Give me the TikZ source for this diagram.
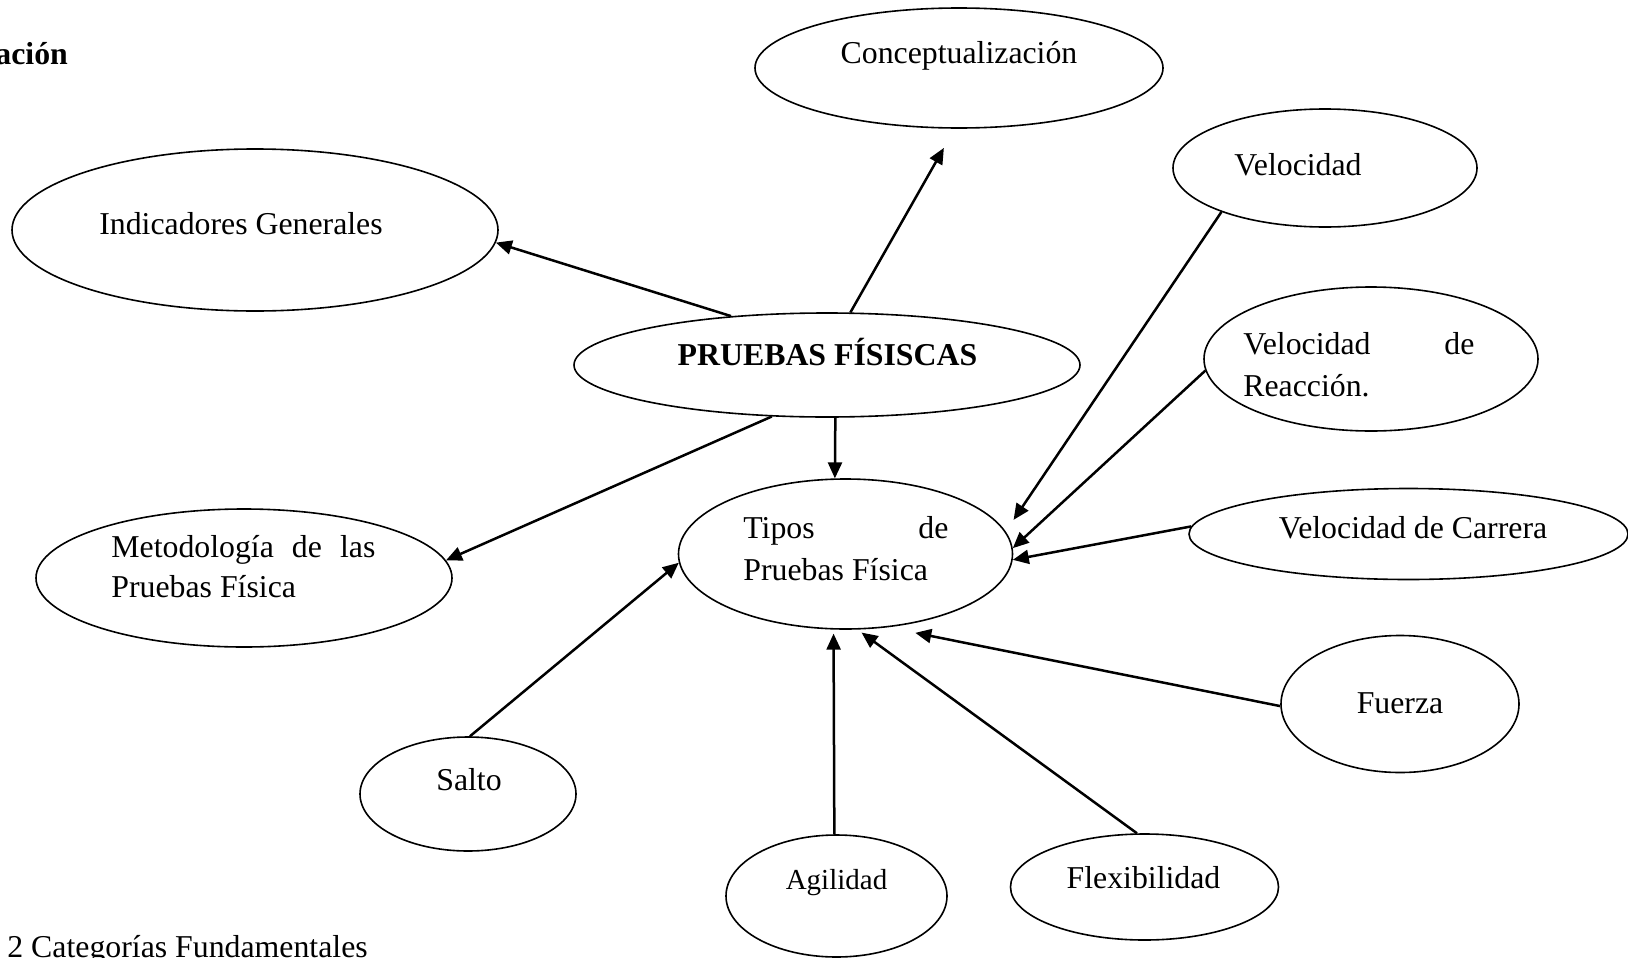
\documentclass[tikz,border=0pt]{standalone}
\usepackage{fontspec}
\setmainfont{Liberation Serif}
\usetikzlibrary{shapes.geometric,arrows.meta}
\begin{document}
\begin{tikzpicture}[x=0.5pt,y=-0.5pt,
  ell/.style 2 args={draw, ellipse, line width=0.8pt, inner sep=0pt,
                     minimum width=#1pt, minimum height=#2pt},
  lbl/.style={font=\fontsize{15.9}{19}\selectfont, inner sep=0pt, anchor=base},
  lblw/.style={lbl, anchor=base west},
  link/.style={-{Triangle[length=8pt,width=7pt]}, line width=1.25pt}]
\clip (0,0) rectangle (1628,958);
\fill[white] (0,0) rectangle (1628,958);

% ellipses
\node[ell={204}{60}]   (co) at (959,68)    {};
\node[ell={152}{59}]   (ve) at (1325,168)  {};
\node[ell={243}{81}]   (in) at (255,230)   {};
\node[ell={253}{52}]   (pr) at (827,365)   {};
\node[ell={167}{72}]   (vr) at (1371,359)  {};
\node[ell={167}{75}]   (ti) at (845.5,554) {};
\node[ell={208}{69}]   (me) at (244,578)   {};
\node[ell={219.5}{45.5}] (vc) at (1408.5,534) {};
\node[ell={119}{68.5}] (fu) at (1400,704)  {};
\node[ell={108}{57}]   (sa) at (468,794)   {};
\node[ell={110.5}{61}] (ag) at (836.5,896) {};
\node[ell={134}{53}]   (fl) at (1144.5,887) {};

% labels
\node[lblw, font=\fontsize{15.9}{19}\selectfont\bfseries] (hd) at (-5,64) {ación};
\node[lbl] (co-t) at (959,63)    {Conceptualización};
\node[lbl] (ve-t) at (1298,175)  {Velocidad};
\node[lbl] (in-t) at (241,234)   {Indicadores Generales};
\node[lbl, font=\fontsize{15.9}{19}\selectfont\bfseries] (pr-t) at (827.5,365) {PRUEBAS FÍSISCAS};
\node[lblw] (vr-a) at (1243,354) {\hbox to 115.5pt{Velocidad\hfill de}};
\node[lblw] (vr-b) at (1243,396) {Reacción.};
\node[lblw] (ti-a) at (743,538)  {\hbox to 102.5pt{Tipos\hfill de}};
\node[lblw] (ti-b) at (743,580)  {Pruebas Física};
\node[lblw] (me-a) at (111,557)  {\hbox to 132pt{Metodología\hfill de\hfill las}};
\node[lblw] (me-b) at (111,597.5) {Pruebas Física};
\node[lbl] (vc-t) at (1413,538)  {Velocidad de Carrera};
\node[lbl] (fu-t) at (1400,713)  {Fuerza};
\node[lbl] (sa-t) at (469,790.5) {Salto};
\node[lbl, font=\fontsize{14.5}{17}\selectfont] (ag-t) at (836.5,889) {Agilidad};
\node[lbl] (fl-t) at (1143.5,888) {Flexibilidad};
\node[lblw] (ft) at (7,957) {2 Categorías Fundamentales};

% connectors
\draw[link, shorten >=11pt] (pr.66)  -- (co.266);
\draw[link] (pr.153) -- (in.357);
\draw[link] (pr.279) -- (ti.98);
\draw[link] (pr.223) -- (me.5);
\draw[link, shorten >=7pt] (ve.203) -- (ti.8);
\draw[link] (vr.184) -- (ti.2);
\draw[link] (vc.178) -- (ti.358);
\draw[link, shorten >=14pt] (fu.181) -- (ti.300);
\draw[link, shorten >=2.5pt] (fl.98) -- (ti.279);
\draw[link, shorten >=2pt] (ag.92) -- (ti.261);
\draw[link] (sa.88) -- (ti.183);
\end{tikzpicture}
\end{document}
